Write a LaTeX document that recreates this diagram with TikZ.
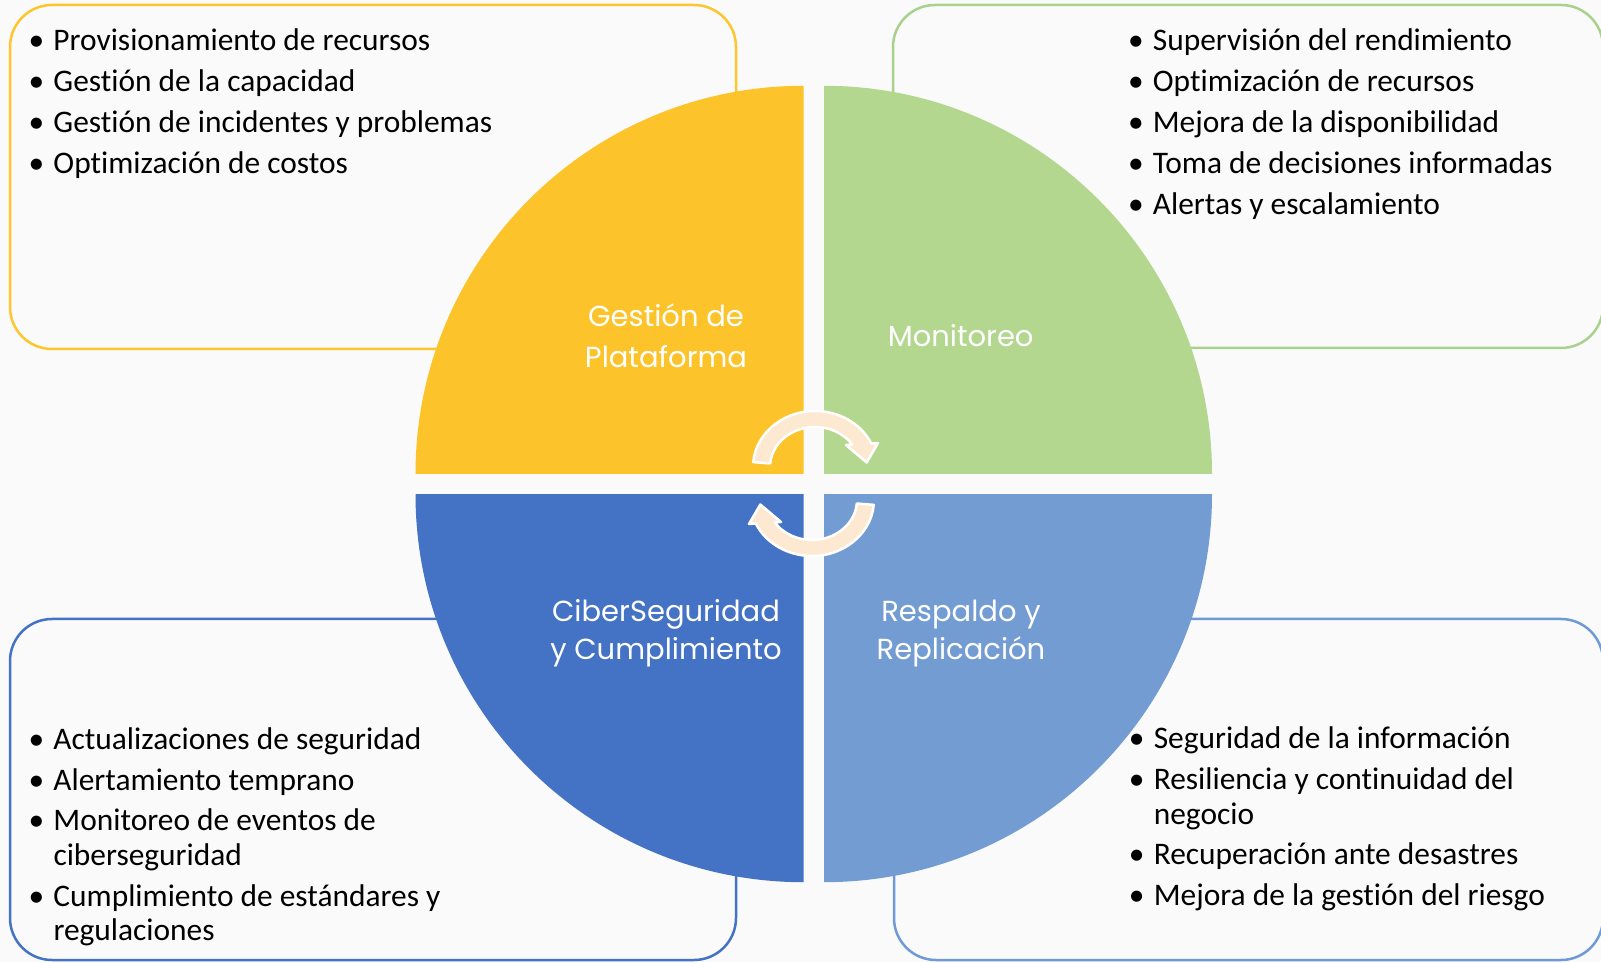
\documentclass[tikz,border=0pt]{standalone}
\usepackage{fontspec}
\setmainfont[RawFeature={-liga;-calt;-dlig;-clig}]{Carlito}
\newfontfamily\pop{Poppins}
\definecolor{bgc}{HTML}{FAFAFA}
\definecolor{qY}{HTML}{FDC32B}
\definecolor{qG}{HTML}{B3D78F}
\definecolor{qB}{HTML}{4472C4}
\definecolor{qL}{HTML}{739CD3}
\definecolor{bY}{HTML}{FFC52E}
\definecolor{bG}{HTML}{A9D18E}
\definecolor{bB}{HTML}{4472C4}
\definecolor{bL}{HTML}{6F9BD4}
\definecolor{peach}{HTML}{FDE9D1}
\newcommand\itm{\leavevmode\llap{\makebox[34pt][c]{•}}}
\tikzset{
  boxline/.style={line width=2.5pt, rounded corners=42pt},
  listtxt/.style={inner sep=0pt, anchor=base west, text=black},
  labtxt/.style={inner sep=0pt, anchor=base, text=white},
  arrowshape/.style={fill=peach, draw=white, line width=2.5pt, line join=round}
}
\begin{document}
\begin{tikzpicture}[x=1pt,y=1pt]
\useasboundingbox (0,0) rectangle (1601,962);
\fill[bgc] (0,0) rectangle (1601,962);
% side boxes
\draw[boxline, draw=bY] (10,613) rectangle (736,957);
\draw[boxline, draw=bG] (893,614) rectangle (1603,957);
\draw[boxline, draw=bB] (10,2) rectangle (736,343);
\draw[boxline, draw=bL] (894,2) rectangle (1603,343);
% quadrants
\fill[qY] (803.5,488.2) -- (415.5,488.2) arc[start angle=180,end angle=90,radius=388] -- cycle;
\fill[qG] (824,488.2) -- (824,876.2) arc[start angle=90,end angle=0,radius=388] -- cycle;
\fill[qB] (803.5,467.8) -- (803.5,79.8) arc[start angle=270,end angle=180,radius=388] -- cycle;
\fill[qL] (824,467.8) -- (1212,467.8) arc[start angle=0,end angle=-90,radius=388] -- cycle;
% cycle arrows
\begin{scope}[shift={(815,495)}]
\filldraw[arrowshape] (-61.76,4.88) arc[start angle=175,end angle=24.8,x radius=62,y radius=56]
  -- (63,24) -- (51.7,4.5) -- (31,22) -- (37.2,22.5)
  arc[start angle=34.2,end angle=175,x radius=45,y radius=40] -- cycle;
\end{scope}
\begin{scope}[shift={(812,462)},rotate=180]
\filldraw[arrowshape] (-61.76,4.88) arc[start angle=175,end angle=24.8,x radius=62,y radius=56]
  -- (63,24) -- (51.7,4.5) -- (31,22) -- (37.2,22.5)
  arc[start angle=34.2,end angle=175,x radius=45,y radius=40] -- cycle;
\end{scope}
% quadrant labels
\node[labtxt] (lgp) at (666,635.3) {\parbox[t]{320pt}{\centering\pop\fontsize{29}{40.6}\selectfont Gestión de\\Plataforma}};
\node[labtxt] (lmon) at (960.7,615.3) {\parbox[t]{320pt}{\centering\pop\fontsize{29}{40.6}\selectfont Monitoreo}};
\node[labtxt] (lcib) at (666,340.3) {\parbox[t]{320pt}{\centering\pop\fontsize{29}{37.8}\selectfont CiberSeguridad\\y Cumplimiento}};
\node[labtxt] (lres) at (961,340.3) {\parbox[t]{320pt}{\centering\pop\fontsize{29}{37.8}\selectfont Respaldo y\\Replicación}};
% lists
\node[listtxt] (ltl) at (53.3,911) {\parbox[t]{680pt}{\raggedright\fontsize{31.4}{34.5}\selectfont
\itm Provisionamiento de recursos\\[6.3pt]
\itm Gestión de la capacidad\\[6.3pt]
\itm Gestión de incidentes y problemas\\[6.3pt]
\itm Optimización de costos}};
\node[listtxt] (ltr) at (1152.7,911) {\parbox[t]{440pt}{\raggedright\fontsize{31.4}{34.5}\selectfont
\itm Supervisión del rendimiento\\[6.3pt]
\itm Optimización de recursos\\[6.3pt]
\itm Mejora de la disponibilidad\\[6.3pt]
\itm Toma de decisiones informadas\\[6.3pt]
\itm Alertas y escalamiento}};
\node[listtxt] (lbl) at (53.3,212.7) {\parbox[t]{680pt}{\raggedright\fontsize{31.4}{34.5}\selectfont
\itm Actualizaciones de seguridad\\[6.3pt]
\itm Alertamiento temprano\\[6.3pt]
\itm Monitoreo de eventos de\\
ciberseguridad\\[6.3pt]
\itm Cumplimiento de estándares y\\
regulaciones}};
\node[listtxt] (lbr) at (1153.6,213.3) {\parbox[t]{440pt}{\raggedright\fontsize{31.4}{34.5}\selectfont
\itm Seguridad de la información\\[6.3pt]
\itm Resiliencia y continuidad del\\
negocio\\[6.3pt]
\itm Recuperación ante desastres\\[6.3pt]
\itm Mejora de la gestión del riesgo}};
\end{tikzpicture}
\end{document}
